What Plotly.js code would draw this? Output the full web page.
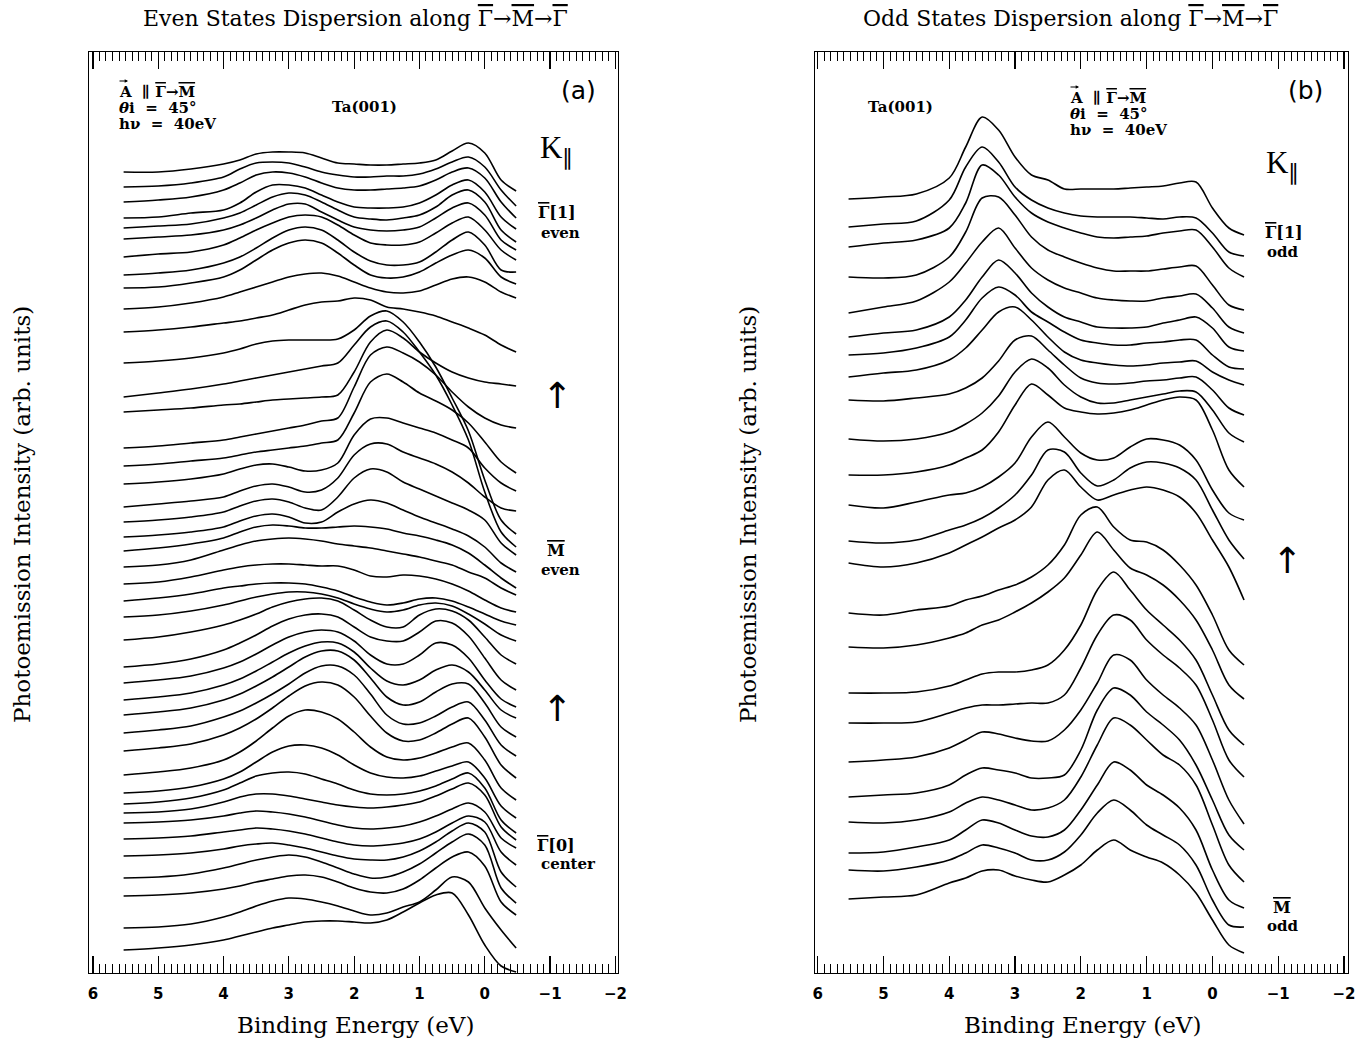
<!DOCTYPE html>
<html><head><meta charset="utf-8">
<script src="https://cdn.plot.ly/plotly-3.0.1.min.js"></script>
<style>html,body{margin:0;padding:0;background:#fff}</style>
</head><body>
<div id="chart" style="width:1357px;height:1038px"></div>
<script>
// Binding energy sample points (eV) shared by every spectrum
const bindingEnergy = [5.53, 5.0, 4.5, 4.0, 3.75, 3.5, 3.25, 3.0, 2.75, 2.5, 2.25, 2.0, 1.75, 1.5, 1.25, 1.0, 0.75, 0.5, 0.25, 0.0, -0.25, -0.48];

// Panel (a): even states, stacked spectra (arb. units incl. stacking), top to bottom
const evenSpectra = [
[828,828,831,836,840,846,848,848,847,842,837,836,835,835,836,837,840,849,857,847,820,809],
[813,814,817,823,831,837,838,837,833,828,825,823,823,824,824,826,831,838,843,833,810,794],
[798,800,803,810,817,825,828,827,823,817,812,810,810,811,812,814,820,828,832,822,798,782],
[782,783,787,790,797,808,815,815,812,805,798,793,792,792,793,797,805,815,820,808,783,771],
[772,774,776,782,787,795,803,807,805,798,790,783,781,780,782,785,793,805,810,798,770,758],
[761,763,765,770,775,782,790,796,796,788,780,773,770,769,770,773,782,792,797,785,760,750],
[743,746,748,755,762,770,777,783,785,783,775,765,757,755,755,758,767,777,783,770,750,740],
[725,727,730,737,743,752,762,770,773,770,760,748,739,735,735,738,748,760,768,755,730,728],
[712,713,717,723,730,740,750,757,760,757,747,735,725,722,723,728,737,745,750,742,723,716],
[691,693,697,703,708,713,718,723,726,727,724,718,712,708,707,709,715,721,723,718,708,702],
[668,670,673,677,679,682,685,690,695,698,699,702,700,693,691,688,684,678,672,665,655,648],
[637,639,642,647,651,656,659,660,660,660,661,670,684,689,678,658,633,602,569,520,480,466],
[603,607,611,616,619,622,625,628,631,634,637,655,673,679,668,648,625,595,560,508,468,453],
[588,590,592,595,596,598,600,601,602,603,605,628,658,670,662,648,637,628,622,618,616,614],
[552,554,557,560,563,566,569,572,575,579,582,613,645,653,647,638,625,608,593,582,575,572],
[534,536,539,542,545,548,550,552,554,557,560,587,618,626,618,607,599,590,577,558,538,527],
[516,518,521,526,531,535,536,533,529,530,537,565,581,582,577,572,567,560,552,532,517,509],
[493,496,499,503,509,514,516,513,508,510,522,545,556,556,548,542,536,528,517,503,492,489],
[478,480,483,488,494,499,501,498,492,490,503,522,531,528,518,511,504,497,490,480,457,445],
[463,465,468,473,479,484,486,483,477,478,488,496,500,497,490,483,477,471,464,453,437,428],
[449,452,456,462,468,473,475,474,472,472,473,474,473,471,467,464,460,455,447,435,422,412],
[433,435,440,450,455,459,461,462,461,459,456,454,452,449,446,443,439,435,428,422,412,405],
[416,418,423,430,433,435,436,436,435,434,434,430,424,423,425,424,421,416,409,400,392,388],
[399,402,406,412,414,416,417,417,416,413,409,403,398,395,397,401,402,399,393,386,379,375],
[383,385,389,395,399,403,406,408,408,406,402,396,391,388,390,395,397,394,386,376,365,359],
[360,363,368,375,380,386,393,398,401,402,399,390,380,373,373,385,391,389,380,363,345,336],
[333,336,341,350,357,365,374,381,385,386,383,373,363,359,359,368,379,377,364,342,320,310],
[317,320,324,332,338,346,355,363,368,370,368,359,345,336,336,345,357,355,342,320,301,293],
[300,303,307,315,321,329,338,347,354,358,357,348,332,319,315,320,330,335,328,310,290,282],
[285,288,292,300,306,314,323,333,343,349,349,340,322,303,295,298,308,316,316,297,273,263],
[267,270,274,283,289,297,306,316,327,334,334,325,306,285,276,277,284,293,298,280,255,244],
[249,252,256,265,272,281,292,304,314,318,315,303,284,267,259,260,267,276,282,263,235,222],
[225,228,232,240,248,259,272,284,290,288,281,268,253,243,240,242,247,253,257,240,212,200],
[207,209,213,221,228,238,248,254,255,252,245,235,227,223,222,224,229,234,238,222,194,182],
[196,198,202,210,217,224,227,228,226,221,216,210,206,205,206,209,214,221,227,212,180,167],
[187,188,191,198,203,206,206,204,201,198,195,193,192,193,195,198,204,211,217,205,173,160],
[177,178,180,184,187,189,188,186,183,179,175,172,171,172,174,178,184,191,197,188,162,152],
[161,162,164,168,170,172,171,169,166,162,158,155,154,155,157,161,168,177,184,178,148,135],
[144,145,147,151,154,156,157,155,152,148,144,141,140,140,143,149,158,169,177,168,128,113],
[122,123,126,132,136,140,143,145,143,138,132,126,122,123,128,136,147,158,166,155,112,97],
[104,105,107,111,114,118,121,124,125,123,118,112,108,107,111,120,132,143,148,134,98,85],
[72,73,76,83,88,94,99,102,101,98,94,89,85,87,93,98,110,123,118,92,70,52],
[50,52,55,60,64,68,72,75,78,79,79,78,77,80,88,97,105,107,85,55,34,28]
];

// Panel (b): odd states, stacked spectra, top to bottom
const oddSpectra = [
[801,803,806,822,853,883,870,843,825,820,811,811,811,811,812,813,814,817,818,792,772,765],
[773,776,779,800,833,853,838,813,800,792,787,784,783,783,783,782,781,783,782,767,748,744],
[753,757,760,772,797,835,825,803,787,778,772,767,763,762,763,764,767,769,770,753,732,723],
[723,722,725,743,768,802,803,785,763,750,743,737,732,729,729,729,731,733,734,715,695,690],
[687,693,699,718,737,758,772,752,732,720,712,707,702,700,699,699,702,704,706,692,673,667],
[663,667,670,683,700,723,740,727,707,693,683,678,673,672,672,673,677,680,683,672,653,649],
[645,647,652,663,680,702,713,705,688,678,668,660,657,655,655,657,658,660,660,645,633,631],
[623,627,630,640,652,670,688,693,680,663,648,640,637,635,634,635,637,638,639,628,620,615],
[600,599,602,606,612,622,639,660,664,650,635,622,617,616,617,619,620,622,623,610,592,585],
[561,559,561,568,576,587,604,628,641,632,615,603,597,597,600,603,606,609,608,590,567,558],
[525,525,528,535,542,550,568,595,616,605,592,588,586,587,590,595,600,603,600,570,530,513],
[495,492,498,505,507,513,523,537,563,578,563,547,540,542,553,561,560,555,540,510,487,480],
[459,457,460,470,475,482,492,505,525,550,548,527,514,520,532,538,537,532,520,490,460,441],
[437,433,437,447,455,463,472,480,493,520,530,513,500,505,510,513,510,503,487,460,433,400],
[387,385,390,394,400,404,410,415,423,435,455,485,493,473,460,458,450,435,415,385,350,335],
[353,352,355,362,367,375,380,388,397,408,422,445,468,450,432,425,415,400,380,350,315,301],
[307,307,308,314,320,326,328,328,330,335,350,375,410,428,410,390,375,360,340,305,270,255],
[277,277,278,287,292,295,295,296,297,297,305,332,365,385,380,360,345,332,315,280,240,223],
[238,240,243,252,260,268,266,262,259,259,270,290,317,345,340,320,305,292,275,240,200,176],
[203,205,207,215,225,232,230,227,222,222,225,250,290,312,305,288,275,260,235,200,165,150],
[178,177,180,188,197,203,200,195,190,192,200,223,255,282,275,260,245,235,215,175,135,118],
[147,148,153,160,170,180,177,170,164,163,170,190,215,238,230,215,205,192,170,130,100,92],
[130,129,133,140,147,155,152,147,140,140,148,165,187,200,190,175,165,155,135,100,75,73],
[101,103,105,117,122,129,130,124,120,118,125,135,150,160,150,143,137,125,107,80,55,47]
];

const xTickValues = [6, 5, 4, 3, 2, 1, 0, -1, -2];
const GB = '<span style="text-decoration:overline">\u0393</span>';   // Gamma-bar
const MB = '<span style="text-decoration:overline">M</span>';        // M-bar
const panelTitles = ['Even States Dispersion along ' + GB + '\u2192' + MB + '\u2192' + GB,
                     'Odd States Dispersion along ' + GB + '\u2192' + MB + '\u2192' + GB];
const xTitle = 'Binding Energy (eV)';
const yTitle = 'Photoemission Intensity (arb. units)';

// ---------- figure ----------
const W = 1357, H = 1038;
const px = v => v / W, py = v => 1 - v / H;

const traces = [];
evenSpectra.forEach(s => traces.push({x: bindingEnergy, y: s, xaxis: 'x', yaxis: 'y', type: 'scatter', mode: 'lines',
  line: {color: '#000', width: 1.6, shape: 'spline', smoothing: 0.9}, hoverinfo: 'skip', showlegend: false}));
oddSpectra.forEach(s => traces.push({x: bindingEnergy, y: s, xaxis: 'x2', yaxis: 'y2', type: 'scatter', mode: 'lines',
  line: {color: '#000', width: 1.6, shape: 'spline', smoothing: 0.9}, hoverinfo: 'skip', showlegend: false}));

function xAxis(domain, range, anchor) {
  return {domain, range, autorange: false, anchor, showline: true, linecolor: '#000', linewidth: 1.3,
    mirror: 'allticks', ticks: 'inside', ticklen: 17, tickwidth: 1.2, tickcolor: '#000',
    tickmode: 'array', tickvals: xTickValues, ticktext: xTickValues.map(v => v < 0 ? '\u2212' + (-v) : String(v)),
    showgrid: false, zeroline: false, ticklabelstandoff: 7,
    tickfont: {family: 'DejaVu Sans', size: 15, color: '#000', weight: 'bold'},
    minor: {ticks: 'inside', tickmode: 'linear', tick0: 0, dtick: 0.1, ticklen: 9, tickwidth: 1, tickcolor: '#000', showgrid: false}};
}
function yAxis(anchor) {
  return {domain: [1 - 973 / H, 1 - 52 / H], range: [27, 948], autorange: false, anchor, showline: true, mirror: true,
    linecolor: '#000', linewidth: 1.3, ticks: '', showticklabels: false, showgrid: false, zeroline: false};
}

const ann = [];
function T(text, x, y, size, opt) {
  opt = opt || {};
  ann.push({text, x: px(x), y: py(y), xref: 'paper', yref: 'paper', showarrow: false,
    xanchor: opt.xanchor || 'center', yanchor: 'middle', textangle: opt.angle || 0,
    font: {family: opt.family || 'DejaVu Serif', size, color: '#000'}});
}
// small vector arrow drawn over the letter A (pure arrow, no text)
function vecArrow(x0, x1, y) {
  ann.push({x: px(x1), y: py(y), ax: x0 - x1, ay: 0, xref: 'paper', yref: 'paper', text: '',
    showarrow: true, arrowhead: 2, arrowsize: 0.55, arrowwidth: 1.2, arrowcolor: '#000', standoff: 0, startstandoff: 0});
}
const NB = '\u00A0';
function infoBlock(x, y0) {
  T('<b>A' + NB + NB + '\u2225' + NB + GB + '\u2192' + MB + '</b>', x, y0, 15, {xanchor: 'left'});
  vecArrow(x + 1, x + 11, y0 - 11);
  T('<b><i>\u03B8</i>i' + NB + NB + '=' + NB + NB + '45\u00B0</b>', x, y0 + 16, 15, {xanchor: 'left'});
  T('<b>h\u03BD' + NB + NB + '=' + NB + NB + '40eV</b>', x, y0 + 32, 15, {xanchor: 'left'});
}
// titles
T(panelTitles[0], 355, 18, 22);
T(panelTitles[1], 1070, 18, 22);
T(xTitle, 355, 1025, 23);
T(xTitle, 1082, 1025, 23);
T(yTitle, 22, 515, 23, {angle: -90});
T(yTitle, 748, 515, 23, {angle: -90});
// panel a labels
infoBlock(117, 92);
T('<b>Ta(001)</b>', 364, 107, 15);
T('(a)', 578, 90, 25, {family: 'DejaVu Sans'});
T('K<sub>\u2225</sub>', 556, 150, 31, {family: 'Liberation Serif'});
T('<b>' + GB + '[1]</b>', 557, 213, 16);
T('<b>even</b>', 560, 233, 15);
T('\u2191', 557, 395, 36, {family: 'DejaVu Sans'});
T('<b>' + MB + '</b>', 556, 550, 16);
T('<b>even</b>', 560, 570, 15);
T('\u2191', 557, 708, 36, {family: 'DejaVu Sans'});
T('<b>' + GB + '[0]</b>', 556, 845, 16);
T('<b>center</b>', 568, 864, 15);
// panel b labels
T('<b>Ta(001)</b>', 900, 107, 15);
infoBlock(1068, 98);
T('(b)', 1305, 90, 25, {family: 'DejaVu Sans'});
T('K<sub>\u2225</sub>', 1282, 165, 31, {family: 'Liberation Serif'});
T('<b>' + GB + '[1]</b>', 1284, 232, 16);
T('<b>odd</b>', 1282, 252, 15);
T('\u2191', 1287, 560, 36, {family: 'DejaVu Sans'});
T('<b>' + MB + '</b>', 1282, 907, 16);
T('<b>odd</b>', 1282, 926, 15);

const layout = {
  width: W, height: H, margin: {l: 0, r: 0, t: 0, b: 0},
  paper_bgcolor: '#fff', plot_bgcolor: '#fff', showlegend: false,
  font: {family: 'DejaVu Serif', color: '#000'},
  xaxis: xAxis([89 / W, 618 / W], [6.06, -2.04], 'y'),
  yaxis: yAxis('x'),
  xaxis2: xAxis([815 / W, 1348 / W], [6.04, -2.06], 'y2'),
  yaxis2: yAxis('x2'),
  annotations: ann
};
Plotly.newPlot('chart', traces, layout, {staticPlot: true, displayModeBar: false});
</script>
</body></html>
